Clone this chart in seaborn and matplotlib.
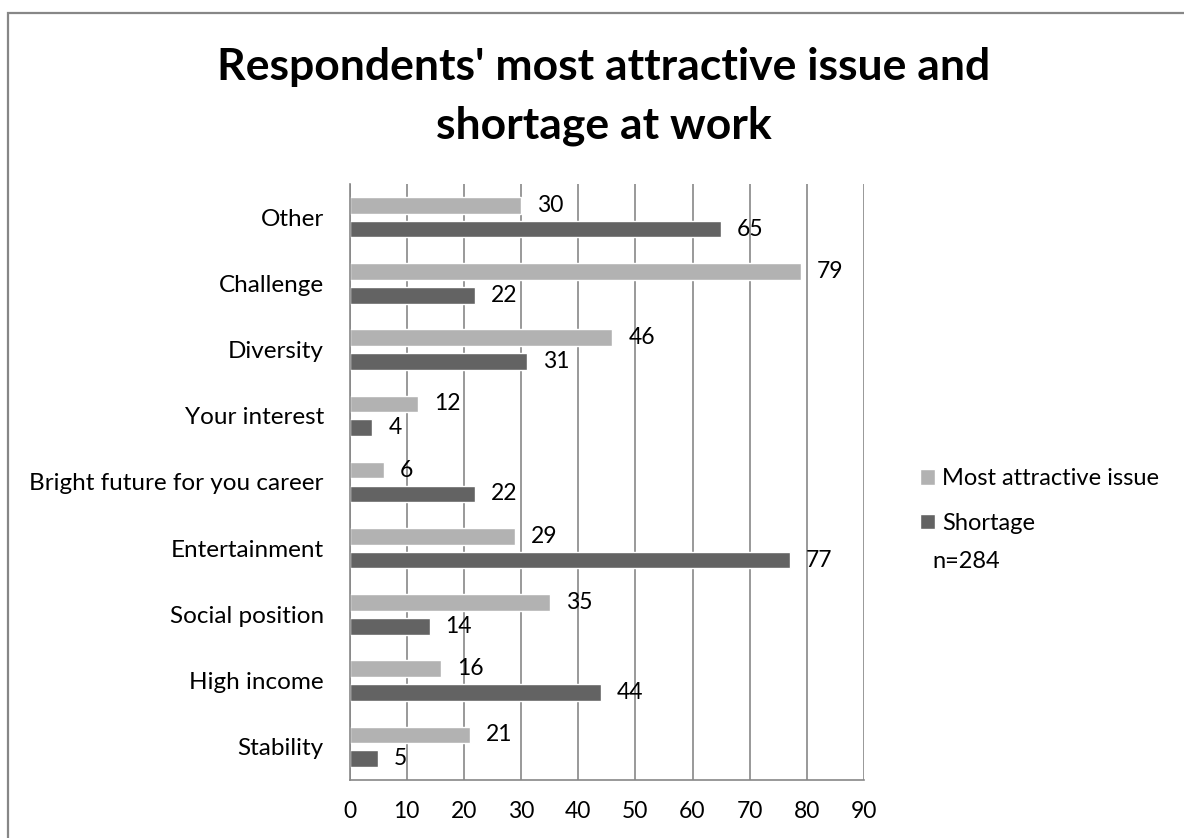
import matplotlib.pyplot as plt
import matplotlib.patches as mpatches
import pandas as pd
import seaborn as sns

# data
categories = ["Other", "Challenge", "Diversity", "Your interest",
              "Bright future for you career", "Entertainment",
              "Social position", "High income", "Stability"]
attractive = [30, 79, 46, 12, 6, 29, 35, 16, 21]
shortage = [65, 22, 31, 4, 22, 77, 14, 44, 5]
series_names = ["Most attractive issue", "Shortage"]
x_ticks = [0, 10, 20, 30, 40, 50, 60, 70, 80, 90]

LIGHT = "#b2b2b2"
DARK = "#636363"
GRID = "#878787"
W, H = 1184, 838

df = pd.DataFrame({
    "item": categories * 2,
    "value": attractive + shortage,
    "series": [series_names[0]] * len(categories)
    + [series_names[1]] * len(categories),
})

sns.set_theme(style="white")
plt.rcParams["font.family"] = ["Lato", "DejaVu Sans"]
plt.rcParams["text.color"] = "black"
plt.rcParams["xtick.color"] = "black"
plt.rcParams["ytick.color"] = "black"

fig = plt.figure(figsize=(W / 100, H / 100), dpi=100)
ax = fig.add_axes([349.5 / W, 1 - 780 / H,
                   (864 - 349.5) / W, (780 - 184) / H])

sns.barplot(data=df, y="item", x="value", hue="series", orient="h",
            order=categories, hue_order=series_names,
            palette=[LIGHT, DARK], width=0.72, gap=0.3,
            ax=ax, legend=True)

for cont in ax.containers:
    ax.bar_label(cont, fmt="%d", padding=11.5, fontsize=16.5, color="black")

ax.set_xlim(0, 90)
ax.set_xticks(x_ticks)
ax.set_xlabel("")
ax.set_ylabel("")
ax.grid(axis="x", color=GRID, linewidth=1.2)
ax.grid(axis="y", visible=False)
ax.set_axisbelow(True)
for side in ["top", "right"]:
    ax.spines[side].set_visible(False)
for side in ["left", "bottom"]:
    ax.spines[side].set_color(GRID)
    ax.spines[side].set_linewidth(1.2)
ax.tick_params(axis="x", length=0, pad=15, labelsize=16.5)
ax.tick_params(axis="y", length=0, pad=18.5, labelsize=17.5)

ax.legend(loc="center left", bbox_to_anchor=(920 / W, 1 - 501 / H),
          bbox_transform=fig.transFigure, frameon=False, fontsize=17,
          handlelength=0.64, handleheight=0.64, handletextpad=0.3,
          labelspacing=1.0, borderaxespad=0, borderpad=0)
fig.text(932 / W, 1 - 568 / H, "n=284", fontsize=17,
         va="baseline", ha="left")

# two-line bold title, centred on the (wider) chart area
fig.text(604 / W, 1 - 80 / H, "Respondents' most attractive issue and",
         ha="center", va="baseline", fontsize=32, fontweight="bold")
fig.text(604 / W, 1 - 138 / H, "shortage at work",
         ha="center", va="baseline", fontsize=32, fontweight="bold")

# chart border (top and left edges visible in the reference)
fig.add_artist(mpatches.Rectangle((8 / W, -0.1), 1.2, 1.1 - 13 / H,
                                  transform=fig.transFigure, fill=False,
                                  edgecolor=GRID, linewidth=1.6))

fig.savefig("out.png", dpi=100)
